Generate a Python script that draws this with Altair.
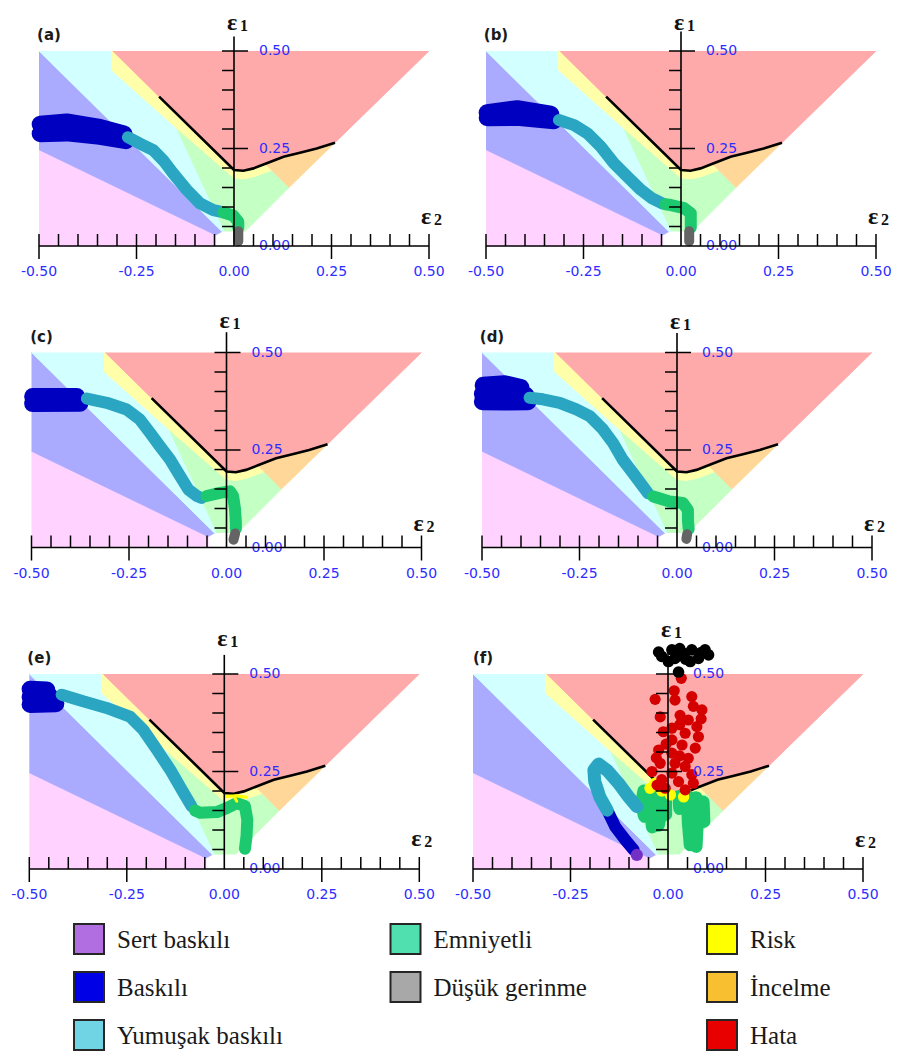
import altair as alt
import pandas as pd

# ---------------- Forming limit curve (black line), (ε2, ε1) ----------------
FLC_E2 = [-0.192, 0.000, 0.024, 0.050, 0.084, 0.127, 0.169, 0.212, 0.259]
FLC_E1 = [0.383, 0.195, 0.193, 0.199, 0.212, 0.229, 0.239, 0.250, 0.265]

# ---------------- background zones (polygon vertices, (ε2, ε1)) ----------------
ZONE_SERT = [(-0.5, 0.0), (-0.047, 0.0), (-0.047, 0.028), (-0.5, 0.247)]
ZONE_BASKILI = [(-0.5, 0.247), (-0.047, 0.028), (-0.031, 0.037), (-0.5, 0.5)]
ZONE_YUMUSAK = [(-0.5, 0.5), (-0.031, 0.037), (-0.024, 0.037), (-0.147, 0.302),
                (-0.314, 0.451), (-0.314, 0.5)]
ZONE_EMNIYETLI = [(-0.024, 0.037), (-0.147, 0.302), (0.0, 0.174), (0.024, 0.172),
                  (0.05, 0.177), (0.097, 0.194), (0.141, 0.150), (0.028, 0.037)]
ZONE_RISK = [(-0.314, 0.5), (-0.314, 0.451), (-0.147, 0.302), (0.0, 0.174), (0.024, 0.172),
             (0.05, 0.177), (0.097, 0.194), (0.08, 0.211), (0.05, 0.199), (0.024, 0.193),
             (0.0, 0.195), (-0.192, 0.383), (-0.311, 0.5)]
ZONE_INCELME = [(0.08, 0.211), (0.141, 0.150), (0.259, 0.265), (0.212, 0.25),
                (0.169, 0.239), (0.127, 0.229), (0.084, 0.212)]
ZONE_HATA = [(-0.311, 0.5), (-0.192, 0.383), (0.0, 0.195), (0.024, 0.193), (0.05, 0.199),
             (0.084, 0.212), (0.127, 0.229), (0.169, 0.239), (0.212, 0.25), (0.259, 0.265),
             (0.5, 0.5)]
ZONE_NAMES = ["sert", "baskili", "yumusak", "emniyetli", "risk", "incelme", "hata"]
ZONE_FILLS = ["#ffd2ff", "#aaaaff", "#d2ffff", "#c4ffc4", "#ffffaa", "#ffd899", "#ffaaaa"]

# ---------------- strain paths, panel (a) ----------------
A_BASKILI_1 = [(-0.497, 0.312), (-0.429, 0.318), (-0.344, 0.304), (-0.282, 0.287)]
A_BASKILI_2 = [(-0.497, 0.288), (-0.429, 0.29), (-0.344, 0.281), (-0.277, 0.27)]
A_YUMUSAK = [(-0.272, 0.279), (-0.24, 0.262), (-0.207, 0.246), (-0.18, 0.218), (-0.156, 0.186),
             (-0.121, 0.144), (-0.087, 0.109), (-0.053, 0.092), (-0.035, 0.088)]
A_EMNIYETLI = [(-0.027, 0.086), (-0.002, 0.078), (0.011, 0.062), (0.011, 0.047)]
A_DUSUK = [(0.011, 0.038), (0.011, 0.012)]

# ---------------- panel (b) ----------------
B_BASKILI_1 = [(-0.497, 0.342), (-0.42, 0.352), (-0.334, 0.338)]
B_BASKILI_2 = [(-0.497, 0.329), (-0.42, 0.33), (-0.326, 0.321)]
B_YUMUSAK = [(-0.313, 0.323), (-0.274, 0.31), (-0.24, 0.289), (-0.206, 0.255), (-0.172, 0.212),
             (-0.138, 0.178), (-0.103, 0.144), (-0.074, 0.122), (-0.048, 0.109)]
B_EMNIYETLI = [(-0.04, 0.107), (-0.026, 0.105), (0.008, 0.097), (0.025, 0.084),
               (0.025, 0.062), (0.025, 0.047)]
B_DUSUK = [(0.021, 0.038), (0.021, 0.012)]

# ---------------- panel (c) ----------------
C_BASKILI_1 = [(-0.497, 0.387), (-0.384, 0.387)]
C_BASKILI_2 = [(-0.497, 0.369), (-0.376, 0.37)]
C_YUMUSAK = [(-0.358, 0.382), (-0.307, 0.371), (-0.256, 0.354), (-0.222, 0.328), (-0.196, 0.294),
             (-0.171, 0.26), (-0.145, 0.226), (-0.119, 0.183), (-0.098, 0.149), (-0.076, 0.132),
             (-0.064, 0.127)]
C_EMNIYETLI = [(-0.051, 0.132), (-0.017, 0.14), (0.009, 0.144), (0.017, 0.132), (0.022, 0.097),
               (0.024, 0.063), (0.024, 0.048)]
C_DUSUK = [(0.022, 0.036), (0.018, 0.02)]

# ---------------- panel (d) ----------------
D_BASKILI_1 = [(-0.497, 0.416), (-0.442, 0.42), (-0.40, 0.41)]
D_BASKILI_2 = [(-0.499, 0.394), (-0.438, 0.398), (-0.387, 0.39)]
D_BASKILI_3 = [(-0.499, 0.374), (-0.442, 0.373), (-0.382, 0.374)]
D_YUMUSAK = [(-0.378, 0.384), (-0.344, 0.38), (-0.301, 0.371), (-0.258, 0.354), (-0.224, 0.337),
             (-0.19, 0.303), (-0.164, 0.268), (-0.139, 0.225), (-0.113, 0.191), (-0.087, 0.156),
             (-0.074, 0.139)]
D_EMNIYETLI = [(-0.061, 0.131), (-0.019, 0.118), (0.015, 0.114), (0.028, 0.096),
               (0.028, 0.071), (0.03, 0.047)]
D_DUSUK = [(0.026, 0.034), (0.024, 0.022)]

# ---------------- panel (e) ----------------
E_BASKILI_1 = [(-0.498, 0.461), (-0.455, 0.459)]
E_BASKILI_2 = [(-0.498, 0.441), (-0.447, 0.443)]
E_BASKILI_3 = [(-0.498, 0.422), (-0.432, 0.424)]
E_YUMUSAK = [(-0.417, 0.447), (-0.362, 0.43), (-0.302, 0.413), (-0.242, 0.391), (-0.208, 0.357),
             (-0.173, 0.306), (-0.139, 0.255), (-0.109, 0.203), (-0.084, 0.161)]
E_EMNIYETLI = [(-0.075, 0.15), (-0.062, 0.144), (-0.019, 0.146), (0.006, 0.156), (0.032, 0.169),
               (0.053, 0.161), (0.059, 0.126), (0.057, 0.084), (0.053, 0.052)]
E_RISK_1 = [(0.002, 0.186), (0.03, 0.188), (0.057, 0.184)]
E_RISK_2 = [(0.025, 0.186), (0.032, 0.174)]

# ---------------- panel (f) ----------------
F_BASKILI = [(-0.152, 0.143), (-0.135, 0.108), (-0.109, 0.074), (-0.088, 0.049)]
F_YUMUSAK = [(-0.156, 0.151), (-0.175, 0.185), (-0.188, 0.225), (-0.19, 0.254), (-0.178, 0.269),
             (-0.155, 0.252), (-0.127, 0.22), (-0.101, 0.185), (-0.08, 0.16)]
F_EMNIYETLI_1 = [(-0.062, 0.2), (-0.068, 0.165), (-0.06, 0.135)]
F_EMNIYETLI_2 = [(-0.042, 0.205), (-0.045, 0.16), (-0.04, 0.108)]
F_EMNIYETLI_3 = [(-0.02, 0.185), (-0.018, 0.145), (-0.025, 0.112)]
F_EMNIYETLI_4 = [(-0.006, 0.172), (-0.006, 0.14)]
F_EMNIYETLI_5 = [(0.028, 0.186), (0.03, 0.155)]
F_EMNIYETLI_6 = [(0.05, 0.188), (0.052, 0.12), (0.057, 0.062)]
F_EMNIYETLI_7 = [(0.072, 0.183), (0.075, 0.12), (0.072, 0.058)]
F_EMNIYETLI_8 = [(0.09, 0.172), (0.092, 0.122)]
F_SERT_PTS = [(-0.08, 0.036)]
F_RISK_PTS = [(-0.033, 0.22), (-0.046, 0.207), (-0.016, 0.2), (0.006, 0.19), (0.04, 0.185)]
F_HATA_PTS = [(0.034, 0.489), (0.016, 0.457), (-0.033, 0.435), (0.018, 0.433), (0.061, 0.442),
              (0.065, 0.417), (0.087, 0.408), (0.031, 0.394), (-0.02, 0.39), (0.052, 0.382),
              (0.074, 0.365), (0.01, 0.361), (-0.012, 0.352), (0.044, 0.348), (0.078, 0.339),
              (0.01, 0.331), (0.036, 0.318), (-0.024, 0.305), (0.01, 0.297), (0.052, 0.284),
              (0.018, 0.271), (-0.02, 0.271), (0.044, 0.263), (-0.041, 0.25), (0.01, 0.246),
              (0.061, 0.242), (-0.016, 0.229), (0.027, 0.224), (0.065, 0.22), (-0.007, 0.207),
              (0.044, 0.203), (-0.028, 0.215), (0.085, 0.385), (0.07, 0.31), (0.03, 0.37),
              (-0.005, 0.32), (-0.03, 0.285), (0.03, 0.29)]
F_SIYAH_PTS = [(-0.024, 0.556), (-0.016, 0.545), (0.001, 0.532), (0.01, 0.562), (0.018, 0.54),
               (0.03, 0.565), (0.04, 0.553), (0.045, 0.538), (0.057, 0.532), (0.061, 0.562),
               (0.078, 0.54), (0.085, 0.555), (0.095, 0.562), (0.104, 0.549), (0.027, 0.505)]

# ---------------- classes / legend ----------------
CLS_NAMES = ["Sert baskılı", "Baskılı", "Yumuşak baskılı", "Emniyetli", "Düşük gerinme",
             "Risk", "İncelme", "Hata", "Siyah"]
CLS_COLORS = ["#7430c4", "#0000c0", "#2aa6c2", "#1cc96e", "#646464",
              "#ffff00", "#f8b030", "#d40000", "#000000"]
LEG_LABELS = ["Sert baskılı", "Baskılı", "Yumuşak baskılı", "Emniyetli", "Düşük gerinme",
              "Risk", "İncelme", "Hata"]
LEG_FILLS = ["#b06ee0", "#0000e6", "#70d4e4", "#50e0b0", "#a8a8a8", "#ffff00", "#f8c030", "#e80000"]
LEG_COLS = [0, 0, 0, 1, 1, 2, 2, 2]
LEG_ROWS = [0, 1, 2, 0, 1, 0, 1, 2]

X_TICKS = [-0.5, -0.45, -0.4, -0.35, -0.3, -0.25, -0.2, -0.15, -0.1, -0.05,
           0.05, 0.1, 0.15, 0.2, 0.25, 0.3, 0.35, 0.4, 0.45, 0.5]
X_MAJOR = [-0.5, -0.25, 0.25, 0.5]
Y_TICKS = [0.05, 0.1, 0.15, 0.2, 0.25, 0.3, 0.35, 0.4, 0.45, 0.5]
Y_MAJOR = [0.25, 0.5]
X_LABEL_VALUES = [-0.5, -0.25, 0.0, 0.25, 0.5]
X_LABELS = ["-0.50", "-0.25", "0.00", "0.25", "0.50"]
Y_LABEL_VALUES = [0.0, 0.25, 0.5]
Y_LABELS = ["0.00", "0.25", "0.50"]

BLOB = 17
PANELS = {
    "a": [("Baskılı", A_BASKILI_1, BLOB), ("Baskılı", A_BASKILI_2, BLOB), ("Yumuşak baskılı", A_YUMUSAK, 12),
          ("Emniyetli", A_EMNIYETLI, 12), ("Düşük gerinme", A_DUSUK, 10)],
    "b": [("Baskılı", B_BASKILI_1, BLOB), ("Baskılı", B_BASKILI_2, BLOB), ("Yumuşak baskılı", B_YUMUSAK, 12),
          ("Emniyetli", B_EMNIYETLI, 12), ("Düşük gerinme", B_DUSUK, 10)],
    "c": [("Baskılı", C_BASKILI_1, BLOB), ("Baskılı", C_BASKILI_2, BLOB), ("Yumuşak baskılı", C_YUMUSAK, 12),
          ("Emniyetli", C_EMNIYETLI, 12), ("Düşük gerinme", C_DUSUK, 10)],
    "d": [("Baskılı", D_BASKILI_1, BLOB), ("Baskılı", D_BASKILI_2, BLOB), ("Baskılı", D_BASKILI_3, BLOB),
          ("Yumuşak baskılı", D_YUMUSAK, 12), ("Emniyetli", D_EMNIYETLI, 12), ("Düşük gerinme", D_DUSUK, 10)],
    "e": [("Baskılı", E_BASKILI_1, BLOB), ("Baskılı", E_BASKILI_2, BLOB), ("Baskılı", E_BASKILI_3, BLOB),
          ("Yumuşak baskılı", E_YUMUSAK, 12), ("Emniyetli", E_EMNIYETLI, 12),
          ("Risk", E_RISK_1, 3), ("Risk", E_RISK_2, 3)],
    "f": [("Emniyetli", F_EMNIYETLI_1, 13), ("Emniyetli", F_EMNIYETLI_2, 13), ("Emniyetli", F_EMNIYETLI_3, 13),
          ("Emniyetli", F_EMNIYETLI_4, 13), ("Emniyetli", F_EMNIYETLI_5, 13), ("Emniyetli", F_EMNIYETLI_6, 13),
          ("Emniyetli", F_EMNIYETLI_7, 13), ("Emniyetli", F_EMNIYETLI_8, 13),
          ("Baskılı", F_BASKILI, 12), ("Yumuşak baskılı", F_YUMUSAK, 13)],
}
POINTS = {"f": [("Risk", F_RISK_PTS, 130), ("Hata", F_HATA_PTS, 125),
                ("Siyah", F_SIYAH_PTS, 135), ("Sert baskılı", F_SERT_PTS, 150)]}

# ---------------- layout (page pixels) ----------------
PX = 390.0


def view(x0, y0, left, width, top, height, ytop, e1dy, e2dy):
    return dict(xd=[(left - x0) / PX, (left + width - x0) / PX],
                yd=[(y0 - (top + height)) / PX, (y0 - top) / PX],
                w=width, h=height, ytop=ytop, e1dy=e1dy, e2dy=e2dy)


VIEWS = {
    "a": view(234.0, 246.0, 10, 440, 8, 282, 0.537, -28, -29),
    "b": view(681.0, 246.0, 458, 432, 8, 282, 0.55, -28, -29),
    "c": view(226.5, 547.5, 10, 440, 300, 300, 0.552, -32, -24),
    "d": view(677.0, 547.5, 458, 432, 300, 300, 0.55, -31, -24),
    "e": view(224.3, 869.0, 10, 440, 610, 296, 0.549, -35, -30),
    "f": view(668.0, 869.0, 458, 432, 610, 296, 0.567, -44, -29),
}

BLUE = "#2d2dff"
SANS = "DejaVu Sans"
SERIF = "Liberation Serif"

zone_rows = []
for name, pts, col in zip(ZONE_NAMES,
                          [ZONE_SERT, ZONE_BASKILI, ZONE_YUMUSAK, ZONE_EMNIYETLI, ZONE_RISK,
                           ZONE_INCELME, ZONE_HATA], ZONE_FILLS):
    for i, (e2, e1) in enumerate(pts):
        zone_rows.append({"zone": name, "i": i, "e2": e2, "e1": e1, "col": col})
ZONE_DF = pd.DataFrame(zone_rows)
FLC_DF = pd.DataFrame({"e2": FLC_E2, "e1": FLC_E1, "i": list(range(len(FLC_E2)))})

TL = 12 / PX
xt_rows = [{"e2": v, "lo": (-13 / PX if v in X_MAJOR else 0.0), "hi": TL} for v in X_TICKS]
yt_rows = [{"e1": v, "lo": -TL, "hi": (14 / PX if v in Y_MAJOR else 0.0)} for v in Y_TICKS]
XT_DF = pd.DataFrame(xt_rows)
YT_DF = pd.DataFrame(yt_rows)

CLS_SCALE = alt.Scale(domain=CLS_NAMES, range=CLS_COLORS)


def panel(key):
    v = VIEWS[key]
    xs = alt.Scale(domain=v["xd"], nice=False, zero=False)
    ys = alt.Scale(domain=v["yd"], nice=False, zero=False)

    def X(f):
        return alt.X(f, type="quantitative", scale=xs, axis=None)

    def Y(f):
        return alt.Y(f, type="quantitative", scale=ys, axis=None)

    layers = []
    layers.append(alt.Chart(ZONE_DF).mark_line(strokeWidth=0.8).encode(
        x=X("e2"), y=Y("e1"), order=alt.Order("i:Q"), detail="zone:N",
        fill=alt.Fill("col:N", scale=None), stroke=alt.Stroke("col:N", scale=None)))
    layers.append(alt.Chart(FLC_DF).mark_line(color="black", strokeWidth=2.6).encode(
        x=X("e2"), y=Y("e1"), order=alt.Order("i:Q")))

    prow = []
    for s, (cls, pts, w) in enumerate(PANELS[key]):
        for i, (e2, e1) in enumerate(pts):
            prow.append({"seg": s, "i": i, "e2": e2, "e1": e1, "cls": cls, "w": w})
    layers.append(alt.Chart(pd.DataFrame(prow)).mark_line(strokeCap="round", strokeJoin="round").encode(
        x=X("e2"), y=Y("e1"), order=alt.Order("i:Q"), detail="seg:N",
        color=alt.Color("cls:N", scale=CLS_SCALE, legend=None),
        strokeWidth=alt.StrokeWidth("w:Q", scale=None)))

    for cls, pts, size in POINTS.get(key, []):
        pdf = pd.DataFrame({"e2": [p[0] for p in pts], "e1": [p[1] for p in pts], "cls": cls})
        layers.append(alt.Chart(pdf).mark_circle(opacity=1, size=size).encode(
            x=X("e2"), y=Y("e1"), color=alt.Color("cls:N", scale=CLS_SCALE, legend=None)))

    # tick labels
    layers.append(alt.Chart(pd.DataFrame({"v": X_LABEL_VALUES, "t": X_LABELS, "z": 0.0})).mark_text(
        dy=26, fontSize=14, font=SANS, color=BLUE, baseline="middle", align="center").encode(
        x=X("v"), y=Y("z"), text="t:N"))
    layers.append(alt.Chart(pd.DataFrame({"v": Y_LABEL_VALUES, "t": Y_LABELS, "z": 0.0})).mark_text(
        dx=25, fontSize=14, font=SANS, color=BLUE, baseline="middle", align="left").encode(
        x=X("z"), y=Y("v"), text="t:N"))

    # axes
    layers.append(alt.Chart(pd.DataFrame({"a": [-0.5], "b": [0.5], "y": [0.0]})).mark_rule(
        color="black", strokeWidth=1.6).encode(x=X("a"), x2=alt.X2("b"), y=Y("y")))
    layers.append(alt.Chart(pd.DataFrame({"x": [0.0], "a": [0.0], "b": [v["ytop"]]})).mark_rule(
        color="black", strokeWidth=1.6).encode(x=X("x"), y=Y("a"), y2=alt.Y2("b")))
    layers.append(alt.Chart(XT_DF).mark_rule(color="black", strokeWidth=1.5).encode(
        x=X("e2"), y=Y("lo"), y2=alt.Y2("hi")))
    layers.append(alt.Chart(YT_DF).mark_rule(color="black", strokeWidth=1.5).encode(
        x=X("lo"), x2=alt.X2("hi"), y=Y("e1")))

    # axis names and panel label
    top = pd.DataFrame({"e2": [0.0], "e1": [0.5]})
    right = pd.DataFrame({"e2": [0.5], "e1": [0.0]})
    corner = pd.DataFrame({"e2": [-0.5], "e1": [0.5]})
    layers.append(alt.Chart(top).mark_text(text="ε", dx=-2, dy=v["e1dy"], fontSize=24, font=SERIF,
                                           fontWeight="bold", color="#111111", baseline="middle").encode(
        x=X("e2"), y=Y("e1")))
    layers.append(alt.Chart(top).mark_text(text="1", dx=10, dy=v["e1dy"] + 3, fontSize=16, font=SERIF,
                                           fontWeight="bold", color="#111111", baseline="middle").encode(
        x=X("e2"), y=Y("e1")))
    layers.append(alt.Chart(right).mark_text(text="ε", dx=-3, dy=v["e2dy"], fontSize=24, font=SERIF,
                                             fontWeight="bold", color="#111111", baseline="middle").encode(
        x=X("e2"), y=Y("e1")))
    layers.append(alt.Chart(right).mark_text(text="2", dx=9, dy=v["e2dy"] + 3, fontSize=16, font=SERIF,
                                             fontWeight="bold", color="#111111", baseline="middle").encode(
        x=X("e2"), y=Y("e1")))
    layers.append(alt.Chart(corner).mark_text(text="(" + key + ")", dx=10, dy=-16, fontSize=15, font=SANS,
                                              fontWeight="bold", color="#1a1a1a", baseline="middle").encode(
        x=X("e2"), y=Y("e1")))

    return alt.layer(*layers).properties(width=v["w"], height=v["h"])


leg_df = pd.DataFrame({"lab": LEG_LABELS, "col": LEG_COLS, "row": LEG_ROWS, "c": LEG_FILLS})
lx = alt.X("col:Q", scale=alt.Scale(domain=[0, 2], range=[79, 712]), axis=None)
ly = alt.Y("row:Q", scale=alt.Scale(domain=[0, 2], range=[23, 119]), axis=None)
swatches = alt.Chart(leg_df).mark_square(size=900, opacity=1, stroke="#262626", strokeWidth=2).encode(
    x=lx, y=ly, fill=alt.Fill("c:N", scale=None))
texts = alt.Chart(leg_df).mark_text(align="left", baseline="middle", dx=28, dy=1, font=SERIF,
                                    fontSize=25, color="#1a1a1a").encode(x=lx, y=ly, text="lab:N")
legend = alt.layer(swatches, texts).properties(width=880, height=135)

row1 = alt.hconcat(panel("a"), panel("b"), spacing=8, bounds="flush")
row2 = alt.hconcat(panel("c"), panel("d"), spacing=8, bounds="flush")
row3 = alt.hconcat(panel("e"), panel("f"), spacing=8, bounds="flush")

chart = alt.vconcat(row1, row2, row3, legend, spacing=10).properties(
    padding={"left": 2, "top": 0, "right": 0, "bottom": 0}
).configure_view(strokeWidth=0)

chart.save("out.html", embed_options={"renderer": "svg", "actions": False})
